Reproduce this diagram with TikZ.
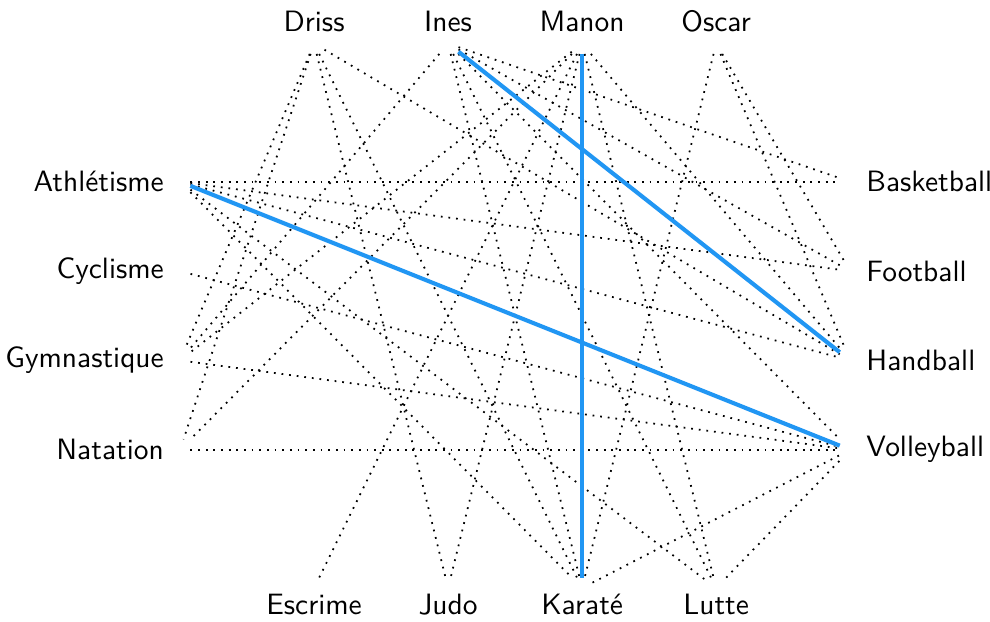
\documentclass[tikz,border=0pt]{standalone}
\usepackage{xcolor}
\definecolor{matchBlue}{RGB}{33, 150, 243}
\usepackage{tikz}
\usetikzlibrary{positioning}

\begin{document}
\begin{tikzpicture}[
    vertexNode/.style={
        inner sep=0pt, minimum size=6.67pt
    },
    topName/.style={
        font=\sffamily, text=black, anchor=base
    },
    leftName/.style={
        font=\sffamily, text=black, anchor=east
    },
    rightName/.style={
        font=\sffamily, text=black, anchor=west
    },
    pairEdge/.style={
        dotted, line width=0.6pt, draw=black
    },
    chosenEdge/.style={
        line width=1.4pt, draw=matchBlue
    }
]
    \useasboundingbox (-6.15,-3.65) rectangle (5.67,3.77);

    % Persons (top)
    \node[vertexNode] (vDriss) at (-2.4, 3.25) {};
    \node[vertexNode] (vInes) at (-0.8, 3.25) {};
    \node[vertexNode] (vManon) at (0.8, 3.25) {};
    \node[vertexNode] (vOscar) at (2.4, 3.25) {};

    % Individual sports (left)
    \node[vertexNode] (vAthle) at (-4, 1.6) {};
    \node[vertexNode] (vCyclisme) at (-4, 0.533) {};
    \node[vertexNode] (vGym) at (-4, -0.533) {};
    \node[vertexNode] (vNatation) at (-4, -1.6) {};

    % Team sports (right)
    \node[vertexNode] (vBasket) at (4, 1.6) {};
    \node[vertexNode] (vFoot) at (4, 0.533) {};
    \node[vertexNode] (vHand) at (4, -0.533) {};
    \node[vertexNode] (vVolley) at (4, -1.6) {};

    % Combat sports (bottom)
    \node[vertexNode] (vEscrime) at (-2.4, -3.25) {};
    \node[vertexNode] (vJudo) at (-0.8, -3.25) {};
    \node[vertexNode] (vKarate) at (0.8, -3.25) {};
    \node[vertexNode] (vLutte) at (2.4, -3.25) {};

    % Names
    \node[topName] (nDriss) at (vDriss.center) [yshift=4pt] {Driss};
    \node[topName] (nInes) at (vInes.center) [yshift=4pt] {Ines};
    \node[topName] (nManon) at (vManon.center) [yshift=4pt] {Manon};
    \node[topName] (nOscar) at (vOscar.center) [yshift=4pt] {Oscar};

    \node[leftName] (nAthle) at (vAthle.center) [xshift=-2pt] {Athlétisme};
    \node[leftName] (nCyclisme) at (vCyclisme.center) [xshift=-2pt] {Cyclisme};
    \node[leftName] (nGym) at (vGym.center) [xshift=-2pt] {Gymnastique};
    \node[leftName] (nNatation) at (vNatation.center) [xshift=-2pt] {Natation};

    \node[rightName] (nBasket) at (vBasket.center) [xshift=2pt] {Basketball};
    \node[rightName] (nFoot) at (vFoot.center) [xshift=2pt] {Football};
    \node[rightName] (nHand) at (vHand.center) [xshift=2pt] {Handball};
    \node[rightName] (nVolley) at (vVolley.center) [xshift=2pt] {Volleyball};

    \node[topName] (nEscrime) at (vEscrime.center) [yshift=-9pt] {Escrime};
    \node[topName] (nJudo) at (vJudo.center) [yshift=-9pt] {Judo};
    \node[topName] (nKarate) at (vKarate.center) [yshift=-9pt] {Karaté};
    \node[topName] (nLutte) at (vLutte.center) [yshift=-9pt] {Lutte};

    % Dotted edges
    \draw[pairEdge] (vDriss) -- (vGym);
    \draw[pairEdge] (vDriss) -- (vNatation);
    \draw[pairEdge] (vDriss) -- (vJudo);
    \draw[pairEdge] (vDriss) -- (vKarate);
    \draw[pairEdge] (vDriss) -- (vHand);

    \draw[pairEdge] (vInes) -- (vGym);
    \draw[pairEdge] (vInes) -- (vBasket);
    \draw[pairEdge] (vInes) -- (vFoot);
    \draw[pairEdge] (vInes) -- (vVolley);
    \draw[pairEdge] (vInes) -- (vKarate);
    \draw[pairEdge] (vInes) -- (vLutte);

    \draw[pairEdge] (vManon) -- (vNatation);
    \draw[pairEdge] (vManon) -- (vGym);
    \draw[pairEdge] (vManon) -- (vEscrime);
    \draw[pairEdge] (vManon) -- (vJudo);
    \draw[pairEdge] (vManon) -- (vLutte);
    \draw[pairEdge] (vManon) -- (vHand);

    \draw[pairEdge] (vOscar) -- (vKarate);
    \draw[pairEdge] (vOscar) -- (vFoot);
    \draw[pairEdge] (vOscar) -- (vHand);

    \draw[pairEdge] (vAthle) -- (vBasket);
    \draw[pairEdge] (vAthle) -- (vFoot);
    \draw[pairEdge] (vAthle) -- (vHand);
    \draw[pairEdge] (vAthle) -- (vKarate);
    \draw[pairEdge] (vAthle) -- (vLutte);

    \draw[pairEdge] (vCyclisme) -- (vVolley);
    \draw[pairEdge] (vGym) -- (vVolley);
    \draw[pairEdge] (vNatation) -- (vVolley);
    \draw[pairEdge] (vKarate) -- (vVolley);
    \draw[pairEdge] (vLutte) -- (vVolley);

    % Highlighted edges
    \draw[chosenEdge] (vInes) -- (vHand);
    \draw[chosenEdge] (vManon) -- (vKarate);
    \draw[chosenEdge] (vAthle) -- (vVolley);

\end{tikzpicture}
\end{document}
